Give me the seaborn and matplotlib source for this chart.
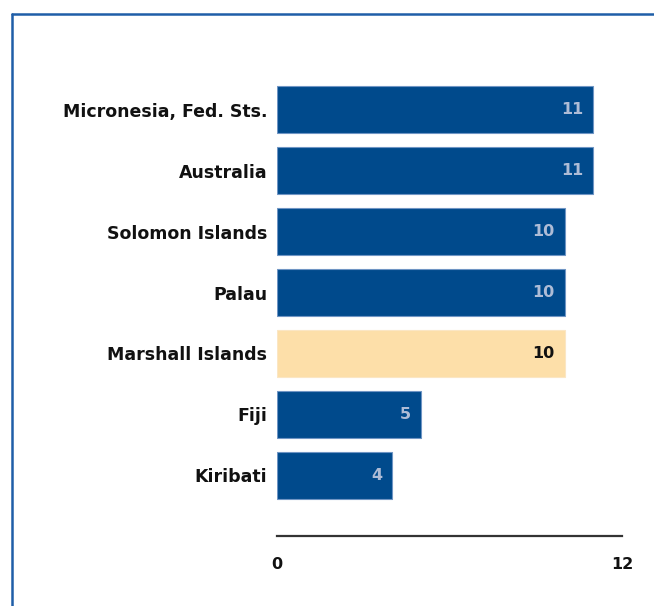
import matplotlib
matplotlib.use("Agg")
import matplotlib.pyplot as plt
from matplotlib.lines import Line2D
import pandas as pd
import seaborn as sns

countries = ["Micronesia, Fed. Sts.", "Australia", "Solomon Islands", "Palau",
             "Marshall Islands", "Fiji", "Kiribati"]
values = [11, 11, 10, 10, 10, 5, 4]
highlight = "Marshall Islands"

BLUE = "#004a8c"
PEACH = "#fddfa9"
FRAME = "#1f5ea8"
TXT = "#111111"

df = pd.DataFrame({"country": countries, "value": values})
palette = {c: (PEACH if c == highlight else BLUE) for c in countries}

sns.set_style("white")
plt.rcParams["font.family"] = ["DejaVu Sans"]

W, H = 654, 606
fig = plt.figure(figsize=(W / 100, H / 100), dpi=100)
ax_top = 49
ax_bot = 536
ax = fig.add_axes([277 / W, 1 - ax_bot / H, (622 - 277) / W, (ax_bot - ax_top) / H])

sns.barplot(data=df, y="country", x="value", hue="country", palette=palette,
            orient="h", width=0.77, legend=False, saturation=1, ax=ax)

for bar, c in zip(ax.patches, countries):
    if c == highlight:
        bar.set_edgecolor("#fbe6c4")
    else:
        bar.set_edgecolor("#6f95c4")
    bar.set_linewidth(0.8)

for i, (c, v) in enumerate(zip(countries, values)):
    col = TXT if c == highlight else "#aebcd6"
    ax.text(v - 0.35, i, str(v), ha="right", va="center", fontsize=11.5,
            fontweight="bold", color=col)

ax.set_xlim(0, 12)
ax.set_ylim(7.0, -1.0)
ax.set_xticks([0, 12])
ax.set_xticklabels(["0", "12"], fontsize=11.5, fontweight="bold", color=TXT)
ax.tick_params(axis="x", length=0, pad=15)
ax.tick_params(axis="y", length=0, pad=7)
for lbl in ax.get_yticklabels():
    lbl.set_fontsize(12.5)
    lbl.set_fontweight("bold")
    lbl.set_color(TXT)
ax.set_xlabel("")
ax.set_ylabel("")
for s in ["top", "right", "left"]:
    ax.spines[s].set_visible(False)
ax.spines["bottom"].set_color("#333333")
ax.spines["bottom"].set_linewidth(1.6)

# outer frame (left and top edges only visible)
fig.add_artist(Line2D([12 / W, 12 / W], [0, 1 - 14 / H], color=FRAME, lw=1.8,
                      transform=fig.transFigure))
fig.add_artist(Line2D([12 / W, 1], [1 - 14 / H, 1 - 14 / H], color=FRAME, lw=1.8,
                      transform=fig.transFigure))

fig.savefig("out.png", dpi=100)
